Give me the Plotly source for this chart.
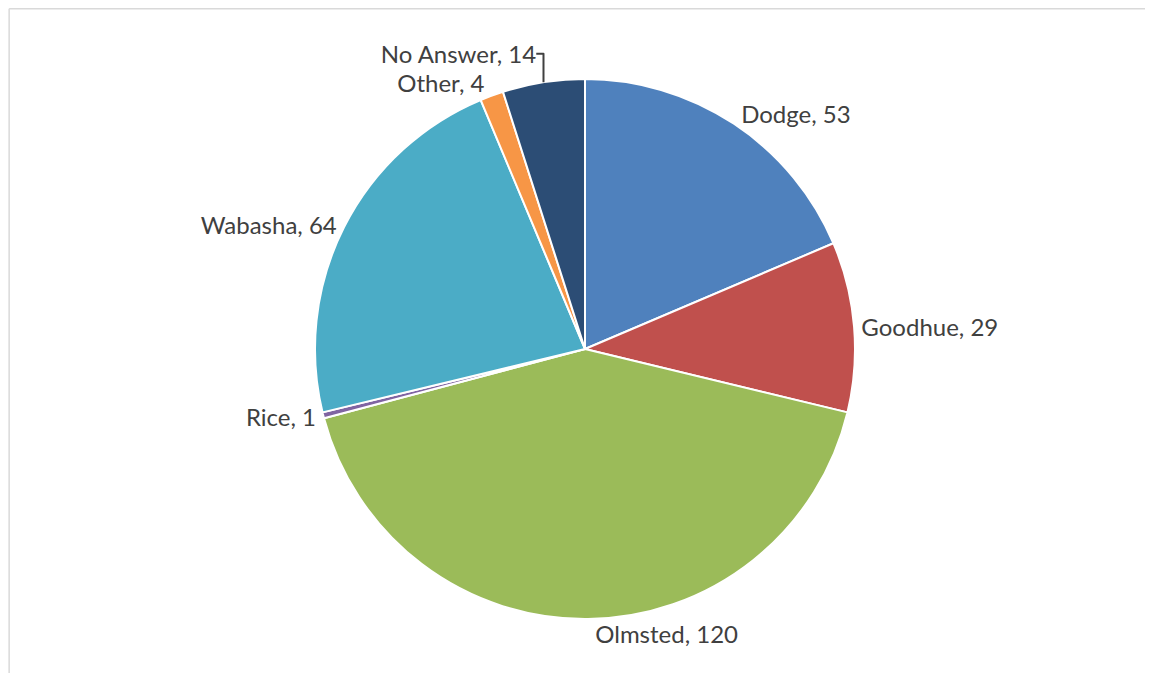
import plotly.graph_objects as go

labels = ["Dodge", "Goodhue", "Olmsted", "Rice", "Wabasha", "Other", "No Answer"]
values = [53, 29, 120, 1, 64, 4, 14]
colors = ["#4F81BD", "#C0504D", "#9BBB59", "#8064A2", "#4BACC6", "#F79646", "#2C4D75"]

W, H = 1137, 665
cx, cy, r = 577, 341, 270

fig = go.Figure(go.Pie(
    labels=labels,
    values=values,
    sort=False,
    direction="clockwise",
    rotation=0,
    marker=dict(colors=colors, line=dict(color="white", width=2)),
    texttemplate="%{label}, %{value}",
    textposition="outside",
    textfont=dict(family="Lato, Open Sans, sans-serif", size=24, color="#404040"),
    showlegend=False,
    domain=dict(x=[(cx - r) / W, (cx + r) / W], y=[1 - (cy + r) / H, 1 - (cy - r) / H]),
    automargin=False,
    hoverinfo="label+value",
))

border = dict(color="#D9D9D9", width=1.5)
fig.update_layout(
    width=W, height=H,
    margin=dict(l=0, r=0, t=0, b=0),
    paper_bgcolor="white",
    shapes=[
        dict(type="line", xref="paper", yref="paper", x0=0.001, x1=0.001, y0=0, y1=0.999, line=border),
        dict(type="line", xref="paper", yref="paper", x0=0.001, x1=1, y0=0.999, y1=0.999, line=border),
    ],
)

fig.write_html("out.html")
